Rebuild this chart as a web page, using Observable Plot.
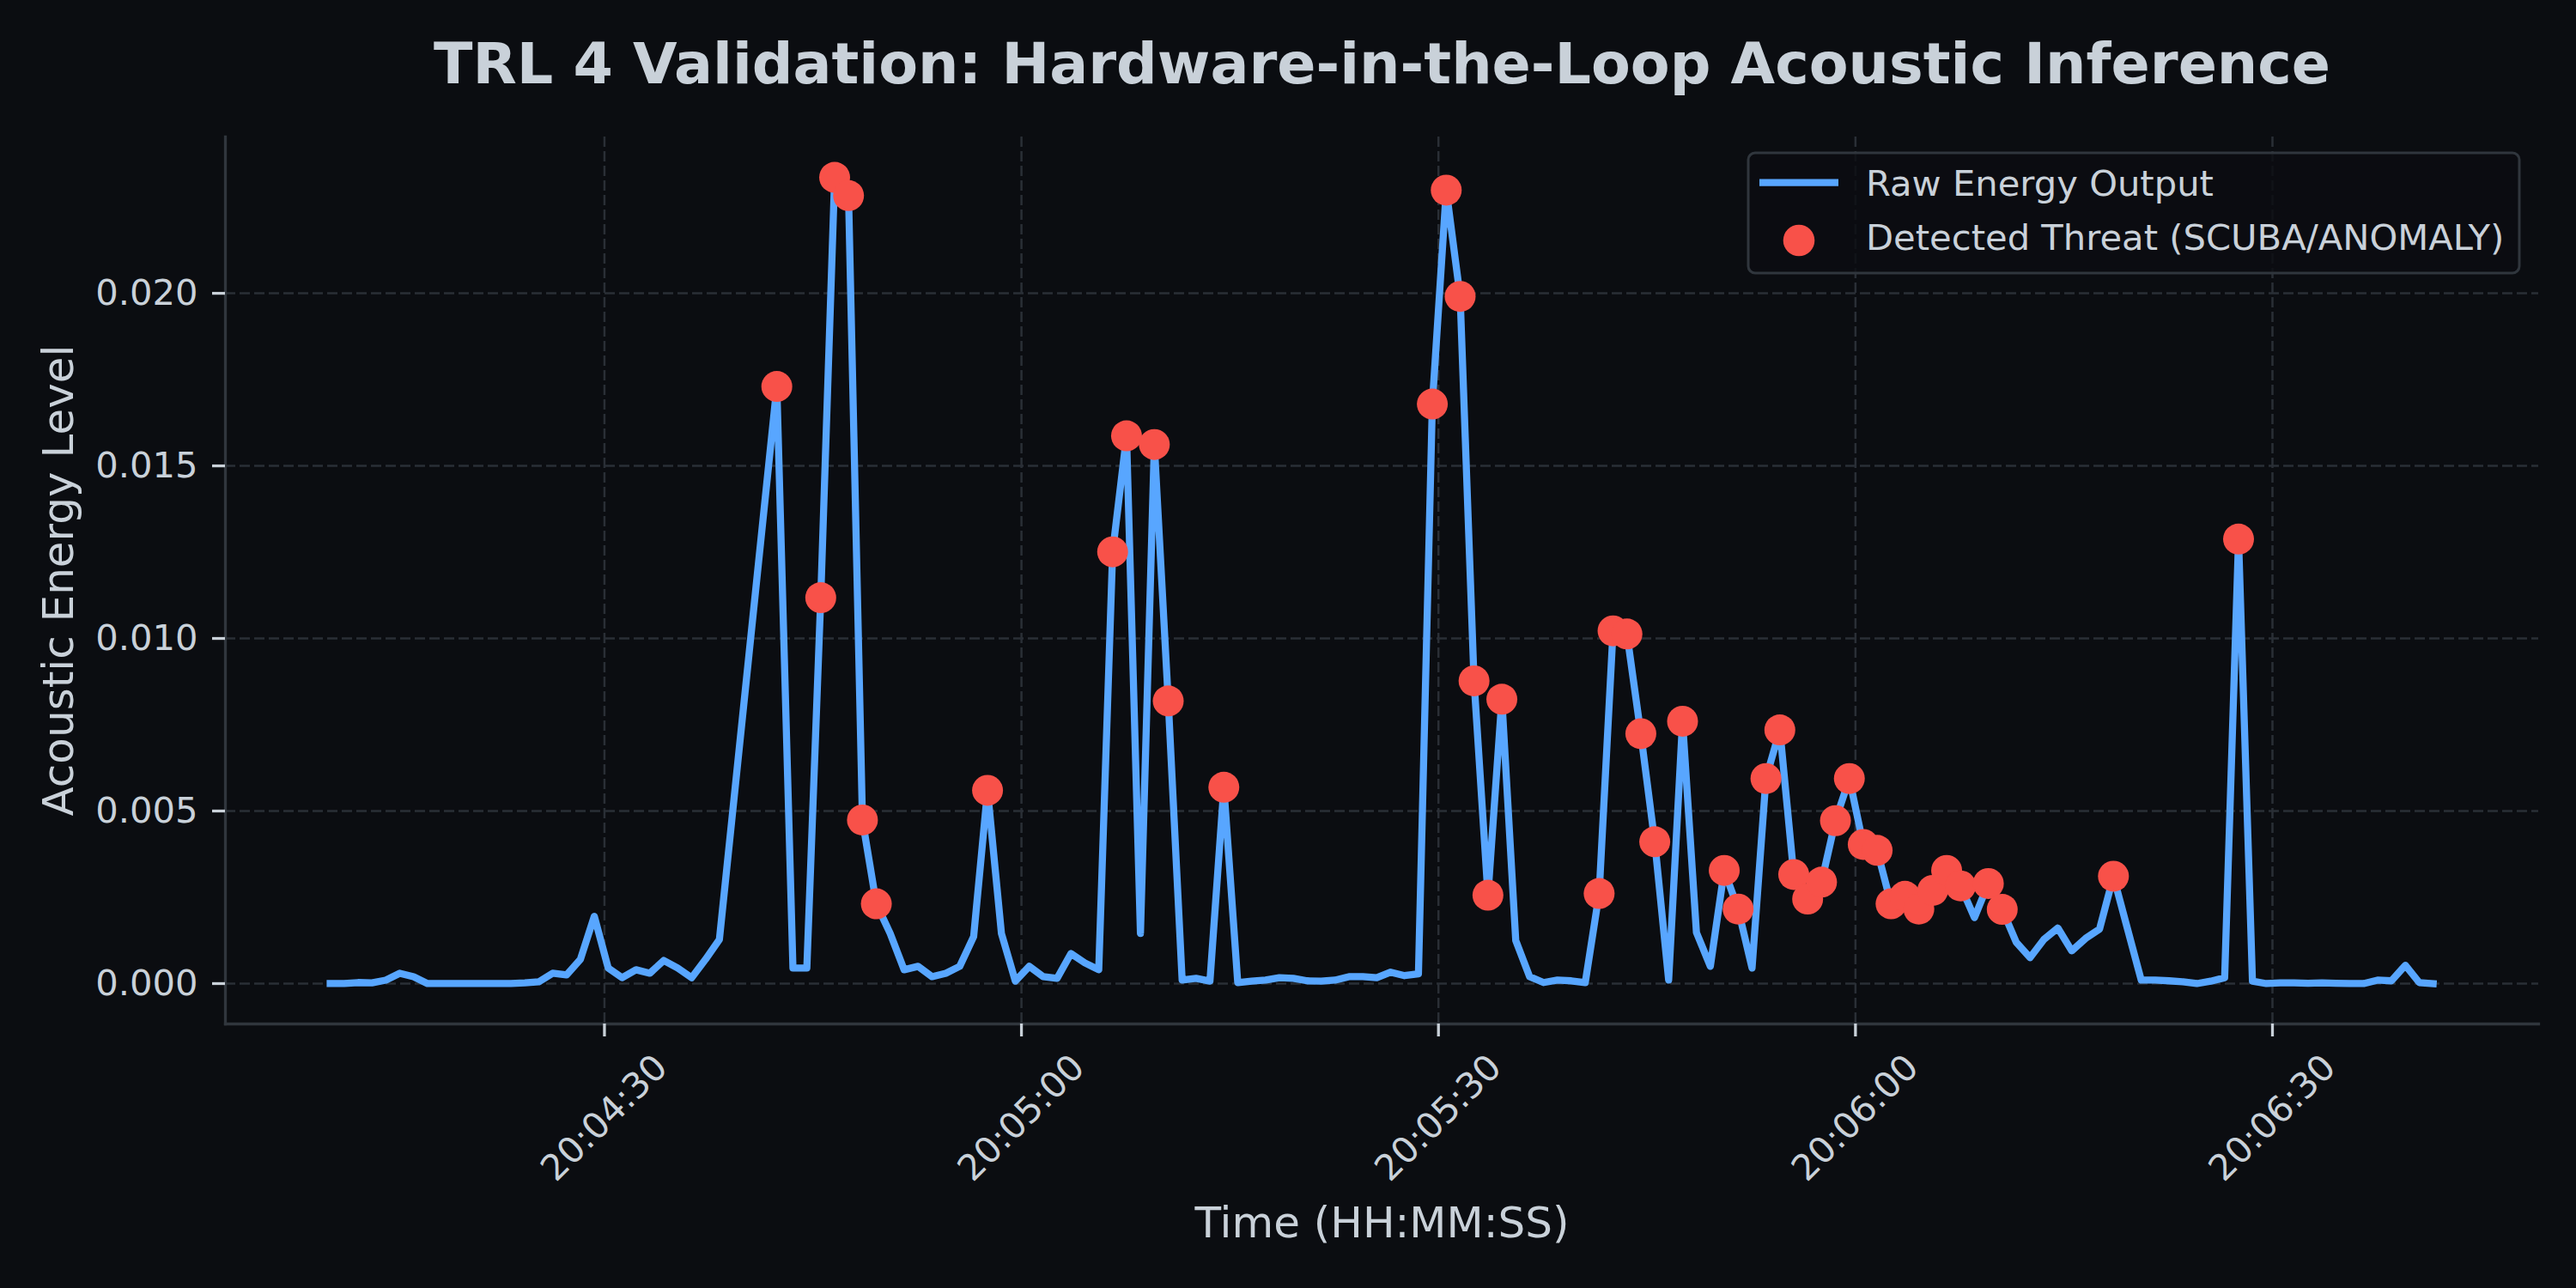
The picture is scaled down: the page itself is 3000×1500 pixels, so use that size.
<!DOCTYPE html>
<html>
<head>
<meta charset="utf-8">
<script src="https://cdn.jsdelivr.net/npm/d3@7"></script>
<script src="https://cdn.jsdelivr.net/npm/@observablehq/plot@0.6"></script>
<style>
  html, body { margin: 0; padding: 0; background: #0b0d11; }
  #chart { width: 3000px; height: 1500px; }
</style>
</head>
<body>
<div id="chart"></div>
<script>
// ---- Data (seconds after 20:04:00, energy value, threat flag) ----
const seconds = [
  10.27, 11.27, 12.27, 13.27, 14.27, 15.27, 16.27, 17.27, 18.27, 19.27,
  20.27, 21.27, 22.27, 23.27, 24.27, 25.27, 26.27, 27.27, 28.27, 29.27,
  30.27, 31.27, 32.27, 33.27, 34.27, 35.27, 36.27, 37.27, 38.27, 42.4,
  43.56, 44.56, 45.56, 46.56, 47.56, 48.56, 49.56, 50.56, 51.56, 52.56,
  53.56, 54.56, 55.56, 56.56, 57.56, 58.56, 59.56, 60.56, 61.56, 62.56,
  63.56, 64.56, 65.56, 66.56, 67.56, 68.56, 69.56, 70.56, 71.56, 72.56,
  73.56, 74.56, 75.56, 76.56, 77.56, 78.56, 79.56, 80.56, 81.56, 82.56,
  83.56, 84.56, 85.56, 86.56, 87.56, 88.56, 89.56, 90.56, 91.56, 92.56,
  93.56, 94.56, 95.56, 96.56, 97.56, 98.56, 99.56, 100.56, 101.56, 102.56,
  103.56, 104.56, 105.56, 106.56, 107.56, 108.56, 109.56, 110.56, 111.56, 112.56,
  113.56, 114.56, 115.56, 116.56, 117.56, 118.56, 119.56, 120.56, 121.56, 122.56,
  123.56, 124.56, 125.56, 126.56, 127.56, 128.56, 129.56, 130.56, 131.56, 132.56,
  133.56, 134.56, 135.56, 136.56, 137.56, 138.56, 139.56, 140.56, 141.56, 142.56,
  143.56, 144.56, 145.56, 146.56, 147.56, 148.56, 149.56, 150.56, 151.56, 152.56,
  153.56, 154.56, 155.56, 156.56, 157.56, 158.56, 159.56, 160.56, 161.56
];
const energy = [
  0, 0, 0.00003, 0.00002, 0.0001, 0.0003, 0.0002, 0, 0, 0,
  0, 0, 0, 0, 0.00002, 0.00005, 0.0003, 0.00025, 0.0007, 0.00195,
  0.00045, 0.00017, 0.0004, 0.0003, 0.00067, 0.00045, 0.00017, 0.0007, 0.00128, 0.0173,
  0.00045, 0.00045, 0.01118, 0.02336, 0.02283, 0.00474, 0.00231, 0.00145, 0.0004, 0.0005,
  0.0002, 0.0003, 0.0005, 0.00136, 0.0056, 0.00145, 0.00007, 0.0005, 0.0002, 0.00015,
  0.00087, 0.0006, 0.0004, 0.01251, 0.01587, 0.00145, 0.01562, 0.00819, 0.0001, 0.00015,
  0.00007, 0.00569, 0.00003, 0.00007, 0.0001, 0.00017, 0.00015, 0.00008, 0.00007, 0.0001,
  0.0002, 0.0002, 0.00017, 0.00033, 0.00023, 0.00028, 0.01679, 0.02299, 0.01991, 0.00877,
  0.00256, 0.00824, 0.00125, 0.0002, 0.00003, 0.0001, 0.00008, 0.00003, 0.00261, 0.01022,
  0.01013, 0.00724, 0.00411, 0.0001, 0.0076, 0.00148, 0.0005, 0.00328, 0.00216, 0.00045,
  0.00594, 0.00735, 0.00316, 0.00245, 0.00294, 0.00472, 0.00594, 0.00403, 0.00386, 0.00231,
  0.00253, 0.00216, 0.0027, 0.00328, 0.00283, 0.00191, 0.0029, 0.00215, 0.0012, 0.00075,
  0.00128, 0.00161, 0.00095, 0.00131, 0.00158, 0.00311, 0.0016, 0.0001, 0.0001, 0.00008,
  0.00005, 0, 0.00007, 0.00017, 0.01288, 0.00007, 0, 0.00002, 0.00002, 0.00001,
  0.00002, 0.00001, 0, 0, 0.0001, 0.00008, 0.00053, 0.00003, 0
];
const threat = [
  0, 0, 0, 0, 0, 0, 0, 0, 0, 0,
  0, 0, 0, 0, 0, 0, 0, 0, 0, 0,
  0, 0, 0, 0, 0, 0, 0, 0, 0, 1,
  0, 0, 1, 1, 1, 1, 1, 0, 0, 0,
  0, 0, 0, 0, 1, 0, 0, 0, 0, 0,
  0, 0, 0, 1, 1, 0, 1, 1, 0, 0,
  0, 1, 0, 0, 0, 0, 0, 0, 0, 0,
  0, 0, 0, 0, 0, 0, 1, 1, 1, 1,
  1, 1, 0, 0, 0, 0, 0, 0, 1, 1,
  1, 1, 1, 0, 1, 0, 0, 1, 1, 0,
  1, 1, 1, 1, 1, 1, 1, 1, 1, 1,
  1, 1, 1, 1, 1, 0, 1, 1, 0, 0,
  0, 0, 0, 0, 0, 1, 0, 0, 0, 0,
  0, 0, 0, 0, 1, 0, 0, 0, 0, 0,
  0, 0, 0, 0, 0, 0, 0, 0, 0
];
const xTickSeconds = [30, 60, 90, 120, 150];       // 20:04:30 ... 20:06:30
const yTicks = [0, 0.005, 0.010, 0.015, 0.020];
const titleText = "TRL 4 Validation: Hardware-in-the-Loop Acoustic Inference";
const xLabel = "Time (HH:MM:SS)";
const yLabel = "Acoustic Energy Level";
const legendLabels = ["Raw Energy Output", "Detected Threat (SCUBA/ANOMALY)"];

// ---- Build table ----
const base = Date.UTC(2024, 0, 1, 20, 4, 0);
const toTime = s => new Date(base + s * 1000);
const data = seconds.map((s, i) => ({time: toTime(s), value: energy[i], threat: threat[i] === 1}));
const threats = data.filter(d => d.threat);
const xTicks = xTickSeconds.map(toTime);

const BG = "#0b0d11", TEXT = "#c9d1d9", BLUE = "#58a6ff", RED = "#f85149", SPINE = "#30363d", GRID = "#2a2f36";
const FS = 41.7;

function legend(index, scales, values, dims) {
  const right = dims.width - dims.marginRight - 22;
  const top = dims.marginTop + 19;
  const w = 898, h = 140, left = right - w;
  const g = d3.create("svg:g").attr("font-family", "DejaVu Sans").attr("text-anchor", "start");
  g.append("rect").attr("x", left).attr("y", top).attr("width", w).attr("height", h)
    .attr("rx", 8).attr("fill", BG).attr("fill-opacity", 0.8)
    .attr("stroke", SPINE).attr("stroke-width", 3);
  g.append("line").attr("x1", left + 13).attr("x2", left + 105)
    .attr("y1", top + 34.7).attr("y2", top + 34.7)
    .attr("stroke", BLUE).attr("stroke-width", 8.3);
  g.append("circle").attr("cx", left + 59).attr("cy", top + 102).attr("r", 18.3).attr("fill", RED);
  legendLabels.forEach((t, i) => {
    g.append("text").attr("x", left + 137).attr("y", top + 50.3 + i * 62.4)
      .attr("text-anchor", "start")
      .attr("fill", TEXT).attr("font-size", FS).text(t);
  });
  return g.node();
}

const chart = Plot.plot({
  width: 3000,
  height: 1500,
  marginLeft: 262,
  marginRight: 44,
  marginTop: 159,
  marginBottom: 308,
  style: {background: BG, color: TEXT, fontFamily: "DejaVu Sans", overflow: "visible"},
  x: {type: "utc", domain: [toTime(2.73), toTime(169.15)]},
  y: {domain: [-0.00117, 0.02453]},
  marks: [
    Plot.gridY(yTicks, {stroke: GRID, strokeOpacity: 1, strokeWidth: 2.5, strokeDasharray: "12,5"}),
    Plot.gridX(xTicks, {stroke: GRID, strokeOpacity: 1, strokeWidth: 2.5, strokeDasharray: "12,5"}),
    Plot.frame({anchor: "left", stroke: SPINE, strokeWidth: 3.3}),
    Plot.frame({anchor: "bottom", stroke: SPINE, strokeWidth: 3.3}),
    Plot.line(data, {x: "time", y: "value", stroke: BLUE, strokeWidth: 8.3, strokeLinejoin: "round", strokeLinecap: "square"}),
    Plot.dot(threats, {x: "time", y: "value", r: 18, fill: RED, stroke: null}),
    Plot.axisY(yTicks, {tickSize: 15, tickPadding: 17, fontSize: FS, tickFormat: d3.format(".3f"), label: null, strokeWidth: 3.3}),
    Plot.axisX(xTicks, {tickSize: 15, tickRotate: -45, textAnchor: "middle", lineAnchor: "middle", tickPadding: 94.7,
      fontSize: FS, tickFormat: d3.utcFormat("%H:%M:%S"), label: null, strokeWidth: 3.3}),
    Plot.text([titleText], {frameAnchor: "top", dy: -63, lineAnchor: "bottom", fontSize: 66.7, fontWeight: "bold", fill: TEXT, text: d => d}),
    Plot.text([xLabel], {frameAnchor: "bottom", dy: 248.7, lineAnchor: "bottom", fontSize: 50, fill: TEXT, text: d => d}),
    Plot.text([yLabel], {frameAnchor: "left", dx: -178, rotate: -90, lineAnchor: "bottom", textAnchor: "middle", fontSize: 50, fill: TEXT, text: d => d}),
    legend
  ]
});
document.getElementById("chart").append(chart);
</script>
</body>
</html>
